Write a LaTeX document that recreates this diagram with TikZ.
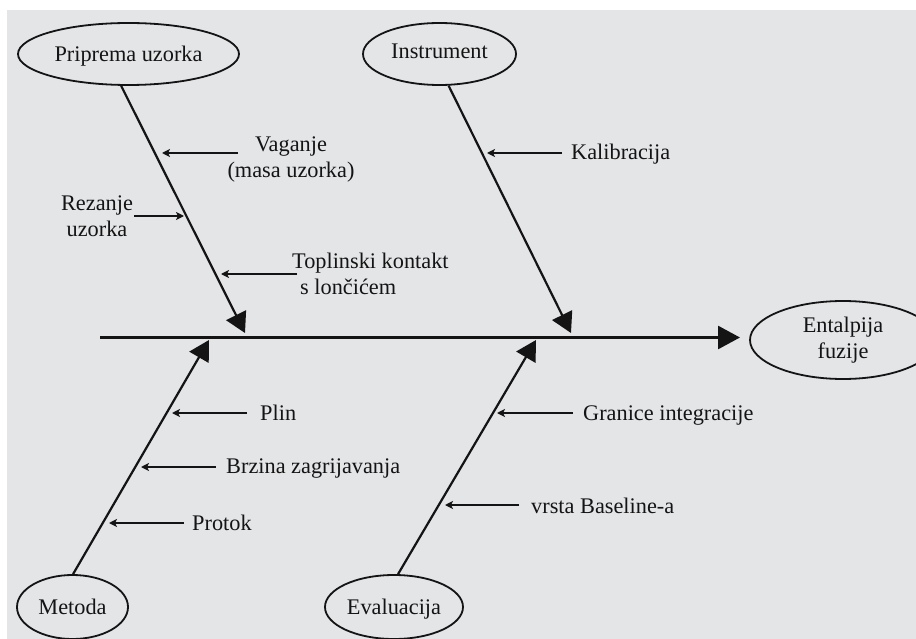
\documentclass[tikz,border=0pt]{standalone}
\usepackage{fontspec}
\setmainfont{Liberation Serif}
\usetikzlibrary{shapes.geometric,arrows.meta}
\definecolor{bgc}{RGB}{228,229,231}
\definecolor{ink}{RGB}{20,20,20}
\begin{document}
\begin{tikzpicture}[x=1pt,y=-1pt,
  lbl/.style={inner sep=0pt, font=\fontsize{22.3}{26}\selectfont, text=ink},
  cause/.style={draw=ink, line width=1.8pt, ellipse, inner sep=0pt, font=\fontsize{22.3}{26}\selectfont, text=ink},
  bone/.style={draw=ink, line width=2.2pt, -{Triangle[length=20pt,width=22pt]}},
  spine/.style={draw=ink, line width=2.8pt, -{Triangle[length=22pt,width=23pt]}},
  twig/.style={draw=ink, line width=1.8pt, -{Stealth[length=8pt,width=8pt,inset=2pt]}}]
\useasboundingbox (0,0) rectangle (916,639);
\fill[bgc] (7,10) rectangle (916,639);

% cause ellipses and effect
\node[cause, minimum width=221pt, minimum height=62pt, text height=16pt, text depth=0pt] (prep) at (128.5,54) {Priprema uzorka};
\node[cause, minimum width=153pt, minimum height=62pt, text height=14pt, text depth=4pt] (instr) at (439.5,54) {Instrument};
\node[cause, minimum width=111pt, minimum height=64pt, text height=14pt, text depth=0pt] (met) at (72.5,607) {Metoda};
\node[cause, minimum width=138pt, minimum height=64pt, text height=14pt, text depth=0pt] (eval) at (394,607) {Evaluacija};
\node[cause, minimum width=186pt, minimum height=78pt, align=center] (ent) at (843,340) {Entalpija\\fuzije};

% spine and bones
\coordinate (s0) at (100,337.5);
\coordinate (s1) at (740,337.5);
\coordinate (t1) at (245,333);
\coordinate (t2) at (571,333);
\coordinate (t3) at (209,340);
\coordinate (t4) at (536,340);
\draw[spine] (s0) -- (s1);
\draw[bone] (prep.-103.6) -- (t1);
\draw[bone] (instr.-74.7) -- (t2);
\draw[bone] (met.89) -- (t3);
\draw[bone] (eval.83) -- (t4);

% branch arrows
\coordinate (a1s) at (238,153); \coordinate (a1e) at (162,153);
\coordinate (a2s) at (134,216); \coordinate (a2e) at (184,216);
\coordinate (a3s) at (297,274); \coordinate (a3e) at (221,274);
\coordinate (a4s) at (562,153); \coordinate (a4e) at (487,153);
\coordinate (a5s) at (247,413); \coordinate (a5e) at (172,413);
\coordinate (a6s) at (216,467); \coordinate (a6e) at (141,467);
\coordinate (a7s) at (184,523); \coordinate (a7e) at (109,523);
\coordinate (a8s) at (573,413); \coordinate (a8e) at (497,413);
\coordinate (a9s) at (519,505); \coordinate (a9e) at (445,505);
\foreach \i in {1,...,9} {\draw[twig] (a\i s) -- (a\i e);}

% labels
\node[lbl, anchor=north, align=center] (vag) at (291,137) {Vaganje\\(masa uzorka)};
\node[lbl, anchor=north, align=center] (rez) at (97,195.3) {Rezanje\\uzorka};
\node[lbl, anchor=north west, align=left] (topl) at (292,253.3) {Toplinski kontakt\\\hspace*{8pt}s lončićem};
\node[lbl, anchor=base west] (kal) at (571,160) {Kalibracija};
\node[lbl, anchor=base west] (plin) at (260,420.5) {Plin};
\node[lbl, anchor=base west] (brz) at (226,473) {Brzina zagrijavanja};
\node[lbl, anchor=base west] (prot) at (192,530) {Protok};
\node[lbl, anchor=base west] (gran) at (583,420) {Granice integracije};
\node[lbl, anchor=base west] (vrsta) at (531,513) {vrsta Baseline-a};
\end{tikzpicture}
\end{document}
